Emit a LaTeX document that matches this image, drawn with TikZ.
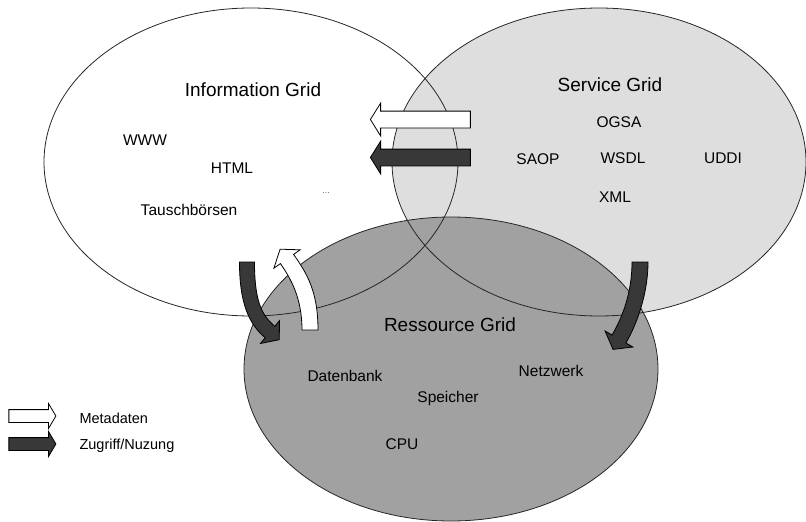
\documentclass[tikz,border=0pt]{standalone}
\usepackage{fontspec}
\setmainfont{Liberation Sans}
\usepackage{xcolor}
\usepackage{tikz}
\usetikzlibrary{shapes.arrows}

\definecolor{servicegray}{gray}{0.87}
\definecolor{ressgray}{gray}{0.63}
\definecolor{pfeildark}{gray}{0.22}

\begin{document}
\begin{tikzpicture}[x=1pt,y=-1pt,
  rand/.style={draw=black!85,line width=0.8pt},
  titel/.style={font=\fontsize{19}{22}\selectfont},
  eintrag/.style={font=\fontsize{15.5}{18}\selectfont},
  legtext/.style={font=\fontsize{14.5}{17}\selectfont,anchor=west},
  pfeil/.style={single arrow,draw=black,line width=0.8pt,inner sep=8pt,
    single arrow head extend=8pt,single arrow tip angle=116,
    minimum height=100pt,shape border rotate=180},
  legpfeil/.style={single arrow,draw=black,line width=0.8pt,inner sep=6pt,
    single arrow head extend=6pt,single arrow tip angle=119,
    minimum height=47pt}]
\useasboundingbox (0,0) rectangle (806,522);
\def\rx{207}\def\ry{154}
\coordinate (info) at (251,162);
\coordinate (serv) at (599,162);
\coordinate (ress) at (451,369);
% Fills: service grid, then ressource grid on top
\fill[white] (info) ellipse[x radius=\rx,y radius=\ry];
\fill[servicegray] (serv) ellipse[x radius=\rx,y radius=\ry];
\fill[ressgray] (ress) ellipse[x radius=\rx,y radius=152];
% Outlines of the three grids
\draw[rand] (info) ellipse[x radius=\rx,y radius=\ry];
\draw[rand] (serv) ellipse[x radius=\rx,y radius=\ry];
\draw[rand] (ress) ellipse[x radius=\rx,y radius=152];

% Information Grid
\node[titel] (infotitel) at (253,90) {Information Grid};
\node[eintrag] (www) at (145,140) {WWW};
\node[eintrag] (html) at (232,168) {HTML};
\node[eintrag] (tausch) at (189,210) {Tauschbörsen};
\node[font=\fontsize{9}{10}\selectfont,text=black!60] (dots) at (326,193) {...};

% Service Grid
\node[titel] (servtitel) at (610,85) {Service Grid};
\node[eintrag] (ogsa) at (619,122) {OGSA};
\node[eintrag] (saop) at (538,159) {SAOP};
\node[eintrag] (wsdl) at (623,158) {WSDL};
\node[eintrag] (uddi) at (723,158) {UDDI};
\node[eintrag] (xml) at (615,197) {XML};

% Ressource Grid
\node[titel] (resstitel) at (450,325) {Ressource Grid};
\node[eintrag] (datenbank) at (345,376) {Datenbank};
\node[eintrag] (netzwerk) at (551,371) {Netzwerk};
\node[eintrag] (speicher) at (448,398) {Speicher};
\node[eintrag] (cpu) at (402,444) {CPU};

% straight arrows service -> information
\node[pfeil,fill=white] (metapfeil) at (423,119.5) {};
\node[pfeil,fill=pfeildark] (zugriffpfeil) at (423,157.5) {};

% curved arrows
\filldraw[fill=pfeildark,draw=black,line width=0.8pt]
  (239.5,262) .. controls (239.5,302) and (248.3,323.6) .. (265.2,337.7)
  -- (260.4,343.5) -- (279.2,339.7) -- (279.6,320.5) -- (274.8,326.3)
  .. controls (261.0,314.7) and (254.5,300) .. (254.5,262) -- cycle;
\filldraw[fill=white,draw=black,line width=0.8pt]
  (302,330) .. controls (302,298) and (290.7,278.3) .. (280.4,263.6)
  -- (273.9,268.2) -- (280.1,249.2) -- (300.1,249.8) -- (293.6,254.4)
  .. controls (307.4,274.1) and (318,292) .. (318,330) -- cycle;
\filldraw[fill=pfeildark,draw=black,line width=0.8pt]
  (632,262) .. controls (632,295) and (621.1,319.4) .. (612.1,335)
  -- (605.1,331) -- (613,349.4) -- (632.9,347) -- (625.9,343)
  .. controls (637.9,322.2) and (648,292) .. (648,262) -- cycle;

% Legend
\node[legpfeil,fill=white] (legmeta) at (30.5,416) {};
\node[legpfeil,fill=pfeildark] (legzugriff) at (30.5,444) {};
\node[legtext] (metatext) at (76,418) {Metadaten};
\node[legtext] (zugrifftext) at (76,446) {Zugriff/Nuzung};
\end{tikzpicture}
\end{document}
